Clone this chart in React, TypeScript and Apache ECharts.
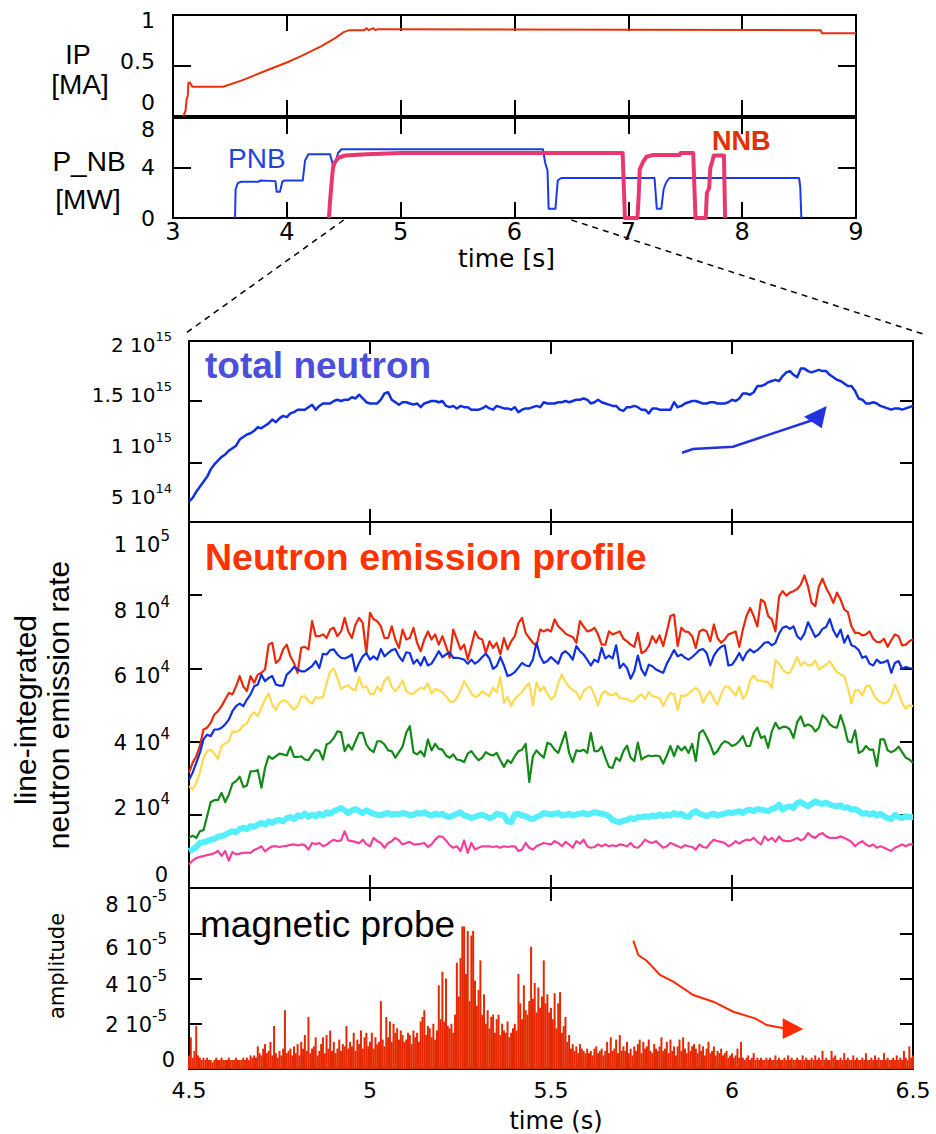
import React, { useEffect, useRef } from 'react';
import * as echarts from 'echarts';

// ================= DATA =================
// Upper panels, time in s (3–9 s)
const ipMA: [number, number][] = [
  [3.09, 0], [3.11, 0.05], [3.12, 0.17], [3.13, 0.2], [3.135, 0.33], [3.15, 0.33], [3.17, 0.29],
  [3.44, 0.29], [3.6, 0.35], [3.82, 0.45], [4.0, 0.53], [4.12, 0.59], [4.3, 0.69], [4.41, 0.76],
  [4.5, 0.83], [4.55, 0.85], [4.68, 0.85], [4.7, 0.87], [4.72, 0.85], [4.76, 0.87], [4.78, 0.85],
  [4.8, 0.86], [8.69, 0.85], [8.7, 0.82], [9.0, 0.82],
];
const pnbMW: [number, number][] = [
  [3.545, 0], [3.55, 2.3], [3.57, 2.8], [3.6, 2.9], [3.75, 2.9], [3.77, 3.0], [3.9, 2.95], [3.91, 2.1],
  [3.94, 2.1], [3.96, 2.9], [3.98, 3.0], [4.14, 3.0], [4.16, 4.6], [4.19, 5.1], [4.38, 5.1], [4.4, 4.4],
  [4.42, 4.2], [4.45, 5.2], [4.48, 5.5], [6.25, 5.5], [6.27, 4.4], [6.29, 3.8], [6.3, 0.75], [6.36, 0.75],
  [6.37, 1.9], [6.38, 3.0], [6.41, 3.2], [7.23, 3.2], [7.25, 0.75], [7.29, 0.75], [7.31, 2.3], [7.33, 2.8],
  [7.36, 3.2], [8.5, 3.2], [8.51, 2.5], [8.52, 0],
];
const nnbMW: [number, number][] = [
  [4.37, 0], [4.38, 1.4], [4.4, 3.5], [4.41, 4.3], [4.45, 4.8], [4.51, 5.0], [4.7, 5.1], [5.0, 5.2],
  [6.95, 5.2], [6.97, 0], [7.08, 0], [7.09, 1.6], [7.1, 3.9], [7.13, 4.5], [7.16, 4.9], [7.22, 5.05],
  [7.45, 5.05], [7.46, 5.2], [7.57, 5.2], [7.59, 0], [7.68, 0], [7.69, 2.0], [7.71, 2.4], [7.72, 4.0],
  [7.74, 4.6], [7.75, 5.0], [7.84, 5.0], [7.85, 0],
];

// Lower panels: sampled from 4.5 s
const ZOOM_T0 = 4.5;
const PROFILE_DT = 0.01; // s
const MAG_DT = 0.005; // s

// total neutron rate, units of 1e15
const totalNeutron_e15 = [
  0.69, 0.72, 0.77, 0.81, 0.85, 0.89, 0.95, 0.99, 1.02, 1.05,
  1.07, 1.10, 1.12, 1.14, 1.19, 1.21, 1.23, 1.24, 1.26, 1.29,
  1.28, 1.30, 1.32, 1.35, 1.33, 1.36, 1.38, 1.37, 1.40, 1.41,
  1.43, 1.43, 1.43, 1.45, 1.47, 1.43, 1.46, 1.48, 1.48, 1.48,
  1.50, 1.51, 1.50, 1.51, 1.51, 1.53, 1.52, 1.55, 1.52, 1.49,
  1.48, 1.48, 1.48, 1.51, 1.56, 1.57, 1.51, 1.49, 1.47, 1.49,
  1.49, 1.48, 1.47, 1.48, 1.45, 1.48, 1.49, 1.50, 1.50, 1.49,
  1.50, 1.46, 1.45, 1.46, 1.44, 1.46, 1.45, 1.45, 1.43, 1.43,
  1.43, 1.44, 1.46, 1.44, 1.43, 1.46, 1.45, 1.44, 1.44, 1.43,
  1.45, 1.41, 1.43, 1.44, 1.44, 1.45, 1.46, 1.45, 1.49, 1.48,
  1.48, 1.48, 1.49, 1.49, 1.50, 1.49, 1.50, 1.51, 1.51, 1.52,
  1.51, 1.48, 1.49, 1.51, 1.49, 1.48, 1.47, 1.46, 1.46, 1.43,
  1.42, 1.45, 1.45, 1.46, 1.45, 1.43, 1.43, 1.40, 1.44, 1.44,
  1.43, 1.43, 1.43, 1.43, 1.49, 1.45, 1.46, 1.48, 1.49, 1.50,
  1.50, 1.49, 1.48, 1.48, 1.49, 1.49, 1.48, 1.48, 1.48, 1.49,
  1.51, 1.50, 1.52, 1.56, 1.56, 1.55, 1.57, 1.62, 1.62, 1.63,
  1.65, 1.66, 1.67, 1.66, 1.70, 1.73, 1.74, 1.71, 1.69, 1.76,
  1.76, 1.74, 1.73, 1.74, 1.75, 1.74, 1.74, 1.71, 1.69, 1.67,
  1.66, 1.64, 1.62, 1.62, 1.58, 1.52, 1.51, 1.48, 1.48, 1.49,
  1.48, 1.46, 1.45, 1.44, 1.43, 1.44, 1.44, 1.43, 1.44, 1.45,
  1.46,
];

// line-integrated neutron emission rate, units of 1e4
const chRed_e4 = [
  3.15, 3.42, 3.60, 3.88, 4.33, 4.38, 4.51, 4.74, 4.83, 4.97,
  5.15, 5.33, 5.29, 5.51, 5.79, 5.51, 5.38, 5.79, 5.61, 5.83,
  5.88, 5.97, 6.65, 6.70, 6.15, 6.24, 6.52, 6.65, 6.33, 6.15,
  5.88, 6.56, 6.59, 6.52, 7.29, 6.88, 6.88, 6.93, 6.83, 7.06,
  7.11, 6.88, 7.01, 7.38, 7.01, 6.83, 7.20, 7.38, 7.24, 6.42,
  7.52, 7.34, 7.29, 7.15, 6.83, 6.83, 7.15, 6.79, 6.56, 7.06,
  6.79, 6.83, 7.11, 6.70, 6.47, 6.79, 7.01, 6.79, 6.93, 6.65,
  6.88, 6.61, 6.29, 7.06, 6.79, 6.52, 6.65, 6.24, 6.61, 7.01,
  6.83, 6.79, 6.42, 6.74, 6.56, 6.70, 6.38, 6.83, 6.52, 6.74,
  6.88, 7.24, 7.38, 6.97, 6.83, 6.70, 6.61, 7.06, 7.01, 7.06,
  7.01, 7.34, 7.15, 7.06, 6.95, 6.90, 6.86, 6.70, 7.29, 7.15,
  7.01, 7.04, 7.11, 6.93, 6.65, 6.65, 7.01, 6.93, 6.97, 7.01,
  6.81, 6.74, 6.65, 6.59, 6.97, 6.42, 6.47, 6.61, 6.88, 6.70,
  6.90, 6.61, 7.01, 7.43, 7.47, 6.61, 7.11, 7.01, 6.99, 6.88,
  6.56, 7.01, 7.06, 7.01, 6.74, 7.20, 6.83, 6.70, 6.79, 6.93,
  6.97, 7.01, 6.59, 7.06, 7.43, 7.65, 7.43, 7.15, 7.88, 7.81,
  7.43, 7.34, 7.01, 7.97, 8.11, 7.99, 8.07, 8.11, 8.17, 8.29,
  8.54, 8.24, 7.79, 7.70, 8.24, 8.45, 8.20, 8.02, 7.79, 8.07,
  7.88, 7.61, 7.54, 7.15, 6.97, 6.97, 6.90, 6.93, 7.01, 6.81,
  6.72, 6.72, 6.81, 6.59, 6.77, 6.93, 6.88, 6.63, 6.65, 6.74,
  6.79,
];
const chBlue_e4 = [
  2.96, 3.15, 3.42, 3.69, 4.06, 4.19, 4.15, 4.33, 4.33, 4.38,
  4.47, 4.60, 4.83, 4.97, 5.04, 4.97, 5.15, 5.29, 5.51, 5.56,
  5.83, 5.65, 5.74, 5.79, 5.56, 5.53, 5.53, 5.83, 5.92, 6.04,
  5.97, 5.92, 5.92, 5.99, 6.06, 6.20, 6.01, 6.40, 6.38, 6.50,
  6.52, 6.38, 6.29, 6.27, 6.31, 6.38, 5.92, 6.15, 6.33, 6.42,
  6.24, 6.33, 6.24, 6.53, 6.33, 6.42, 6.50, 6.53, 6.33, 6.20,
  6.44, 6.42, 6.13, 6.24, 6.08, 6.31, 6.08, 6.13, 6.29, 6.47,
  6.31, 6.38, 6.44, 6.29, 6.29, 6.27, 6.24, 6.13, 6.24, 6.13,
  6.20, 6.31, 6.40, 6.27, 5.99, 6.06, 6.31, 6.08, 5.79, 5.83,
  5.90, 6.02, 6.15, 6.08, 6.06, 6.24, 6.70, 6.33, 6.15, 6.20,
  6.31, 6.22, 6.13, 6.40, 6.47, 6.38, 6.24, 6.61, 6.47, 6.38,
  6.24, 6.08, 6.24, 6.17, 6.56, 6.27, 6.35, 6.27, 6.63, 6.01,
  6.13, 6.01, 5.72, 5.92, 6.35, 5.97, 5.81, 6.10, 6.06, 5.97,
  5.92, 5.88, 6.13, 6.31, 6.50, 6.33, 6.38, 6.29, 6.24, 6.31,
  6.40, 6.50, 6.53, 6.42, 6.08, 6.35, 6.50, 6.59, 6.63, 6.08,
  6.10, 6.24, 6.42, 6.22, 6.42, 6.52, 6.44, 6.50, 6.59, 6.70,
  6.72, 6.63, 6.70, 6.95, 7.11, 7.15, 7.08, 7.15, 6.88, 6.79,
  6.95, 7.26, 7.06, 6.86, 6.93, 7.08, 7.13, 7.35, 7.04, 6.86,
  7.06, 6.70, 6.90, 6.63, 6.59, 6.50, 6.29, 6.33, 6.13, 6.08,
  6.24, 6.15, 6.17, 6.22, 5.88, 6.15, 6.20, 5.99, 6.04, 6.01,
  5.99,
];
const chYellow_e4 = [
  2.78, 2.69, 2.87, 3.15, 3.56, 3.74, 3.78, 3.67, 3.53, 3.88,
  3.95, 4.01, 4.28, 4.26, 4.31, 4.44, 4.49, 4.70, 4.80, 4.70,
  4.92, 5.15, 5.31, 5.01, 4.86, 5.06, 5.13, 5.10, 4.98, 4.88,
  4.97, 5.22, 5.24, 5.10, 5.04, 5.22, 5.19, 5.22, 5.59, 5.92,
  5.99, 5.74, 5.44, 5.50, 5.53, 5.44, 5.40, 5.77, 5.47, 5.51,
  5.31, 5.29, 5.50, 5.38, 5.67, 5.77, 5.50, 5.38, 5.50, 5.67,
  5.38, 5.31, 5.31, 5.40, 5.47, 5.44, 5.59, 5.31, 5.44, 5.40,
  5.35, 5.24, 5.10, 5.08, 5.19, 5.40, 5.65, 5.50, 5.31, 5.22,
  5.26, 5.38, 5.31, 5.24, 5.47, 5.35, 5.77, 5.06, 5.22, 4.97,
  5.17, 5.26, 5.35, 5.50, 5.59, 4.99, 5.62, 5.38, 5.50, 5.31,
  5.15, 5.24, 5.59, 5.83, 5.63, 5.50, 5.40, 5.35, 5.15, 5.38,
  5.47, 5.50, 5.26, 4.99, 5.29, 5.38, 5.29, 5.26, 5.33, 5.19,
  5.17, 5.17, 5.10, 5.10, 5.22, 5.29, 5.17, 5.35, 5.24, 5.22,
  5.19, 4.97, 5.17, 5.33, 5.29, 4.86, 5.26, 5.24, 5.31, 5.40,
  5.47, 5.38, 5.06, 5.26, 5.38, 5.15, 5.01, 5.29, 5.50, 5.50,
  5.38, 5.26, 5.50, 5.17, 5.29, 5.67, 5.81, 5.67, 5.67, 5.63,
  5.63, 5.47, 6.22, 6.13, 5.97, 5.88, 5.88, 6.08, 6.31, 6.08,
  6.17, 6.08, 6.08, 6.22, 5.97, 6.04, 6.10, 6.20, 6.04, 5.90,
  5.83, 5.79, 5.47, 5.04, 5.40, 5.40, 5.26, 5.51, 5.53, 5.31,
  5.15, 5.08, 5.04, 5.08, 5.24, 5.56, 5.33, 5.06, 4.90, 4.99,
  4.97,
];
const chGreen_e4 = [
  1.37, 1.43, 1.37, 1.55, 1.58, 1.96, 2.35, 2.40, 2.40, 2.60,
  2.35, 2.55, 2.85, 2.92, 3.04, 2.76, 2.80, 3.19, 3.19, 3.22,
  2.74, 3.28, 3.60, 3.53, 3.60, 3.67, 3.65, 3.62, 3.86, 3.58,
  3.58, 3.60, 3.51, 3.49, 3.65, 3.78, 3.74, 3.51, 3.92, 3.98,
  4.10, 4.28, 4.26, 3.74, 3.92, 3.78, 4.01, 4.24, 4.24, 3.92,
  3.78, 3.71, 4.01, 4.01, 3.92, 3.76, 3.74, 3.56, 3.71, 3.86,
  4.24, 4.42, 3.71, 3.65, 3.74, 3.60, 4.06, 3.76, 3.94, 3.80,
  3.78, 3.62, 3.56, 3.65, 3.51, 3.49, 3.44, 3.67, 3.74, 3.60,
  3.49, 3.56, 3.71, 3.65, 3.62, 3.69, 3.49, 3.31, 3.49, 3.42,
  3.60, 3.74, 3.78, 3.94, 2.90, 3.60, 3.76, 3.65, 3.56, 3.97,
  3.92, 3.78, 3.69, 3.97, 4.26, 3.69, 3.44, 3.76, 3.74, 3.78,
  3.69, 4.24, 3.74, 3.74, 3.86, 3.56, 3.31, 3.28, 3.56, 3.47,
  3.74, 3.89, 3.56, 3.47, 3.97, 3.51, 3.58, 3.62, 3.60, 3.62,
  3.60, 3.40, 3.62, 3.88, 3.60, 3.88, 3.76, 3.86, 3.69, 3.94,
  3.47, 4.24, 4.31, 4.13, 3.92, 3.65, 3.74, 3.92, 4.01, 3.97,
  3.88, 3.92, 4.01, 4.15, 3.88, 3.88, 4.24, 4.38, 4.10, 4.15,
  3.83, 4.28, 4.51, 4.35, 4.40, 4.40, 4.33, 4.10, 4.53, 4.69,
  4.42, 4.47, 4.42, 4.28, 4.38, 4.72, 4.63, 4.47, 4.40, 4.38,
  4.72, 4.42, 4.01, 3.98, 4.31, 3.69, 3.74, 3.88, 3.78, 3.78,
  3.33, 4.06, 4.06, 3.76, 3.71, 3.76, 3.86, 3.71, 3.56, 3.51,
  3.42,
];
const chCyan_e4 = [
  1.01, 1.05, 1.12, 1.23, 1.25, 1.28, 1.32, 1.34, 1.40, 1.42,
  1.45, 1.51, 1.55, 1.52, 1.61, 1.64, 1.61, 1.69, 1.67, 1.73,
  1.78, 1.73, 1.82, 1.78, 1.84, 1.86, 1.82, 1.91, 1.94, 1.88,
  1.98, 1.96, 2.03, 1.94, 2.00, 1.96, 2.03, 1.98, 2.07, 2.03,
  2.10, 2.14, 2.19, 2.12, 2.05, 2.12, 2.16, 2.10, 2.05, 2.12,
  2.07, 2.03, 2.00, 1.98, 2.03, 2.05, 2.00, 2.03, 2.01, 2.05,
  2.03, 1.98, 2.00, 2.05, 2.03, 2.07, 2.01, 1.98, 2.03, 2.00,
  2.03, 1.96, 1.94, 1.98, 2.03, 2.07, 1.98, 1.96, 1.91, 1.94,
  1.98, 2.00, 1.96, 1.91, 1.94, 2.03, 2.00, 1.98, 1.82, 1.80,
  2.01, 2.03, 1.98, 1.96, 1.91, 1.88, 1.94, 1.98, 2.05, 2.03,
  2.01, 2.03, 2.05, 1.98, 2.00, 2.03, 1.98, 2.01, 2.03, 2.05,
  2.01, 2.03, 2.07, 2.05, 2.03, 2.01, 1.96, 1.86, 1.82, 1.80,
  1.84, 1.86, 1.91, 1.88, 1.94, 1.93, 1.96, 1.94, 1.98, 1.96,
  2.01, 1.96, 2.00, 1.98, 2.05, 2.00, 2.03, 1.96, 1.94, 2.05,
  2.10, 2.03, 2.00, 1.96, 2.01, 2.03, 1.98, 2.01, 2.03, 2.07,
  2.05, 2.07, 2.10, 2.05, 2.12, 2.14, 2.10, 2.16, 2.14, 2.12,
  2.10, 2.16, 2.19, 2.28, 2.14, 2.21, 2.23, 2.19, 2.32, 2.35,
  2.28, 2.23, 2.30, 2.37, 2.32, 2.30, 2.33, 2.28, 2.25, 2.23,
  2.26, 2.19, 2.21, 2.14, 2.16, 2.10, 2.03, 2.05, 2.01, 2.05,
  1.98, 2.03, 1.96, 1.91, 1.88, 2.00, 1.94, 1.91, 1.96, 1.94,
  1.94,
];
const chPink_e4 = [
  0.64, 0.75, 0.82, 0.85, 0.87, 0.90, 0.92, 0.95, 1.01, 0.88,
  1.01, 0.75, 0.98, 0.92, 0.94, 0.96, 0.97, 0.96, 1.04, 1.08,
  1.14, 1.00, 1.08, 1.14, 1.14, 1.12, 1.14, 1.15, 1.18, 1.19,
  1.16, 1.19, 1.17, 1.05, 1.23, 1.20, 1.23, 1.14, 1.18, 1.26,
  1.32, 1.28, 1.30, 1.55, 1.30, 1.28, 1.26, 1.22, 1.32, 1.20,
  1.14, 1.37, 1.28, 1.23, 1.10, 1.23, 1.28, 1.37, 1.30, 1.19,
  1.23, 1.26, 1.19, 1.19, 1.21, 1.23, 1.12, 1.19, 1.32, 1.41,
  1.40, 1.30, 1.17, 1.10, 1.14, 1.01, 1.30, 0.96, 1.23, 1.05,
  1.10, 1.14, 1.14, 1.14, 1.12, 1.14, 1.10, 1.14, 1.12, 1.14,
  1.14, 1.01, 1.05, 1.23, 1.10, 1.05, 1.14, 1.19, 1.23, 1.21,
  1.19, 1.28, 1.23, 1.14, 1.26, 1.19, 1.10, 1.28, 1.21, 1.32,
  1.14, 1.10, 1.12, 1.19, 1.14, 1.19, 1.14, 1.17, 1.14, 1.19,
  1.17, 1.14, 1.23, 1.12, 1.10, 1.19, 1.32, 1.26, 1.23, 1.28,
  1.19, 1.10, 1.14, 1.23, 1.19, 1.14, 1.10, 1.17, 1.14, 1.12,
  1.05, 1.19, 1.12, 1.10, 1.23, 1.32, 1.28, 1.26, 1.23, 1.14,
  1.19, 1.28, 1.21, 1.28, 1.32, 1.30, 1.37, 1.26, 1.19, 1.41,
  1.30, 1.37, 1.26, 1.41, 1.30, 1.28, 1.28, 1.32, 1.37, 1.30,
  1.35, 1.50, 1.41, 1.37, 1.46, 1.50, 1.41, 1.37, 1.37, 1.37,
  1.41, 1.37, 1.32, 1.26, 1.14, 1.23, 1.28, 1.19, 1.14, 1.19,
  1.10, 1.14, 1.10, 1.05, 1.01, 1.10, 1.14, 1.19, 1.14, 1.19,
  1.19,
];

// magnetic probe amplitude, units of 1e-5, every 5 ms
const magneticProbe_e5 = [
  0.6, 1.4, 0.5, 0.8, 1.9, 0.6, 0.5, 0.4, 0.5, 0.4, 0.5, 0.4, 0.4, 0.3, 0.4, 0.5, 0.4, 0.4, 0.5, 0.4,
  0.4, 0.4, 0.5, 0.4, 0.4, 0.4, 0.5, 0.4, 0.4, 0.4, 0.5, 0.4, 0.5, 0.4, 0.6, 0.5, 0.6, 0.5, 1.0, 0.7,
  0.6, 0.9, 1.1, 0.7, 0.8, 1.2, 0.6, 1.9, 0.7, 0.5, 0.8, 0.6, 0.9, 2.6, 0.7, 0.8, 0.9, 0.6, 1.0, 0.7,
  1.1, 0.6, 1.2, 0.9, 1.5, 0.8, 2.3, 0.7, 0.9, 1.0, 1.4, 0.6, 0.8, 1.1, 1.4, 0.7, 1.5, 0.9, 1.7, 0.8,
  1.2, 0.7, 0.9, 1.3, 0.8, 1.1, 1.0, 1.9, 0.9, 1.2, 1.0, 1.6, 0.8, 1.3, 1.1, 1.7, 0.9, 1.4, 1.6, 1.0,
  1.2, 1.6, 0.9, 1.4, 1.1, 1.2, 3.0, 1.3, 1.0, 2.3, 1.4, 2.1, 1.2, 2.0, 1.6, 1.8, 1.3, 1.7, 1.5, 1.2,
  1.3, 1.6, 1.5, 1.1, 1.7, 1.4, 1.6, 1.2, 2.1, 2.3, 2.6, 1.5, 1.9, 1.8, 1.4, 2.0, 1.3, 1.7, 3.7, 2.2,
  4.3, 2.1, 4.0, 1.9, 1.8, 2.0, 1.6, 2.4, 4.7, 3.2, 4.9, 6.3, 6.3, 4.2, 6.1, 3.0, 5.9, 6.1, 3.9, 2.8,
  3.5, 4.8, 2.4, 3.3, 2.0, 2.6, 1.8, 2.3, 2.4, 1.6, 2.2, 2.4, 1.5, 2.0, 1.7, 1.6, 2.1, 1.4, 1.6, 1.8,
  2.0, 1.7, 4.2, 2.9, 2.2, 3.7, 2.6, 2.4, 3.0, 5.4, 3.1, 3.8, 2.5, 3.6, 2.7, 3.2, 4.8, 2.9, 3.3, 2.5,
  2.7, 2.2, 3.35, 1.8, 2.9, 3.4, 1.6, 1.9, 2.3, 1.2, 1.5, 0.9, 1.1, 0.8, 1.0, 0.7, 1.1, 0.9, 0.8, 0.7,
  0.9, 0.7, 0.8, 0.6, 0.9, 1.0, 0.7, 0.8, 0.9, 0.6, 0.8, 1.2, 0.7, 1.4, 0.8, 0.9, 1.3, 0.7, 1.5, 0.8,
  1.0, 0.8, 1.2, 0.7, 0.9, 0.6, 1.0, 0.8, 1.1, 1.3, 0.7, 1.2, 0.9, 1.0, 1.3, 0.8, 0.7, 1.1, 0.9, 0.8,
  1.0, 1.4, 0.8, 0.9, 1.2, 0.7, 1.3, 0.8, 1.0, 0.6, 1.0, 1.3, 0.8, 1.4, 0.9, 0.7, 1.2, 0.8, 1.0, 1.1,
  0.9, 0.7, 1.1, 0.8, 1.0, 0.6, 0.9, 1.2, 0.7, 0.8, 1.0, 0.6, 0.8, 0.7, 0.9, 0.6, 0.7, 0.8, 0.5, 0.6,
  0.7, 0.5, 0.6, 0.9, 0.5, 1.2, 0.5, 0.4, 0.5, 0.6, 0.4, 0.5, 0.7, 0.4, 0.5, 0.4, 0.5, 0.4, 0.4, 0.5,
  0.4, 0.5, 0.4, 0.4, 0.6, 0.4, 0.5, 0.4, 0.4, 0.5, 0.4, 0.6, 0.4, 0.5, 0.4, 0.4, 0.5, 0.4, 0.4, 0.6,
  0.4, 0.5, 0.4, 0.4, 0.5, 0.4, 0.6, 0.4, 0.5, 0.4, 0.8, 0.4, 0.5, 0.4, 0.4, 0.8, 0.5, 0.6, 0.4, 0.4,
  0.5, 0.4, 0.7, 0.4, 0.5, 0.4, 0.4, 0.6, 0.4, 0.5, 0.4, 0.4, 0.5, 0.4, 0.7, 0.4, 0.4, 0.5, 0.4, 0.6,
  0.4, 0.5, 0.4, 0.4, 0.7, 0.4, 0.5, 0.4, 0.4, 0.5, 0.4, 0.6, 0.4, 0.5, 0.4, 0.8, 0.5, 0.4, 1.0, 0.5,
  0.6,
];

// Tick labels (main part, exponent)
const ipTickLabels = ['1', '0.5', '0'];
const pnbTickLabels = ['8', '4', '0'];
const totalTickLabels: [string, string][] = [['2 10', '15'], ['1.5 10', '15'], ['1 10', '15'], ['5 10', '14']];
const profileTickLabels: [string, string][] = [['1 10', '5'], ['8 10', '4'], ['6 10', '4'], ['4 10', '4'], ['2 10', '4'], ['0', '']];
const magTickLabels: [string, string][] = [['8 10', '-5'], ['6 10', '-5'], ['4 10', '-5'], ['2 10', '-5'], ['0', '']];

// ================= LAYOUT / STYLE =================
const FONT = '"Liberation Sans", Arial, Helvetica, sans-serif';
const WIDE = '"DejaVu Sans", Verdana, sans-serif';
const BLACK = '#000';

const ipLabelY = [20, 61.5, 102];
const pnbLabelY = [129.5, 167.5, 218];
const totalLabelY = [345, 395, 446, 497];
const profileLabelY = [544.5, 610.5, 676, 742.5, 807.5, 875];
const magLabelY = [904.5, 947.5, 984.5, 1024.5, 1060];

function series2(vals: number[], t0: number, dt: number) {
  return vals.map((v, i) => [Math.round((t0 + i * dt) * 10000) / 10000, v]);
}

function frameX(gridIndex: number, min: number, max: number, interval: number, tickLen: number, bottomExtra: any = {}) {
  const base = {
    type: 'value', gridIndex, min, max, interval,
    axisLine: { show: true, onZero: false, lineStyle: { color: BLACK, width: 2 } },
    axisTick: { show: true, inside: true, length: tickLen, lineStyle: { color: BLACK, width: 2 } },
    axisLabel: { show: false },
    splitLine: { show: false },
  };
  return [
    { ...base, position: 'bottom', ...bottomExtra },
    { ...base, position: 'top' },
  ];
}

function frameY(gridIndex: number, min: number, max: number, interval: number | undefined, tickLen: number, custom?: number[]) {
  const tick: any = { show: true, inside: true, length: tickLen, lineStyle: { color: BLACK, width: 2 } };
  if (custom) tick.customValues = custom;
  const base: any = {
    type: 'value', gridIndex, min, max,
    axisLine: { show: true, onZero: false, lineStyle: { color: BLACK, width: 2 } },
    axisTick: tick,
    axisLabel: { show: false },
    splitLine: { show: false },
  };
  if (interval !== undefined) base.interval = interval;
  return [
    { ...base, position: 'left' },
    { ...base, position: 'right' },
  ];
}

function tickText(x: number, y: number, main: string, sup: string, fsMain: number, fsSup: number, raise: number) {
  return {
    type: 'text', x, y, silent: true,
    style: {
      text: sup ? `{a|${main}}{b|${sup}}` : `{a|${main}}`,
      rich: {
        a: { fontSize: fsMain, fontFamily: WIDE, fill: BLACK },
        b: { fontSize: fsSup, fontFamily: WIDE, fill: BLACK, padding: [0, 0, raise * 2, 0] },
      },
      align: 'right',
      verticalAlign: 'middle',
    },
  };
}

function plainText(x: number, y: number, text: string, fontSize: number, fill: string, opts: any = {}) {
  const { rotation, ...styleExtra } = opts;
  const el: any = {
    type: 'text', x, y, silent: true,
    style: { text, fontSize, fontFamily: FONT, fill, align: 'center', verticalAlign: 'middle', ...styleExtra },
  };
  if (rotation !== undefined) el.rotation = rotation;
  return el;
}

function line(data: any[], xi: number, yi: number, color: string, width: number) {
  return {
    type: 'line', xAxisIndex: xi, yAxisIndex: yi, data,
    showSymbol: false, symbol: 'none', silent: true,
    lineStyle: { color, width, join: 'round' },
  };
}

export default function App() {
  const ref = useRef<HTMLDivElement>(null);

  useEffect(() => {
    if (!ref.current) return;
    const chart = echarts.init(ref.current, undefined, { renderer: 'svg' });

    const xAxes = [
      ...frameX(0, 3, 9, 1, 16),
      ...frameX(1, 3, 9, 1, 16, {
        axisLabel: { show: true, fontSize: 24, fontFamily: WIDE, color: BLACK, margin: 3, lineHeight: 22 },
        name: 'time [s]', nameLocation: 'middle', nameGap: 30,
        nameTextStyle: { fontSize: 25, fontFamily: WIDE, color: BLACK, lineHeight: 20, padding: [0, 16, 0, 0] },
      }),
      ...frameX(2, 4.5, 6.5, 0.5, 13),
      ...frameX(3, 4.5, 6.5, 0.5, 13),
      ...frameX(4, 4.5, 6.5, 0.5, 13, {
        axisLabel: { show: true, fontSize: 22, fontFamily: WIDE, color: BLACK, margin: 11, lineHeight: 20 },
        name: 'time (s)', nameLocation: 'middle', nameGap: 42,
        nameTextStyle: { fontSize: 24, fontFamily: WIDE, color: BLACK, lineHeight: 20, padding: [0, 0, 0, 10] },
      }),
    ];
    const yAxes = [
      ...frameY(0, 0, 1, 0.5, 18),
      ...frameY(1, 0, 8, 4, 18),
      ...frameY(2, 0.527, 1.982, undefined, 13, [1, 1.5]),
      ...frameY(3, 0, 10, 2, 13),
      ...frameY(4, 0, 8, 2, 13),
    ];

    const option: any = {
      animation: false,
      backgroundColor: '#fff',
      grid: [
        { left: 173, top: 15, width: 683, height: 101 },
        { left: 173, top: 118, width: 683, height: 100 },
        { left: 189, top: 341, width: 724, height: 181 },
        { left: 189, top: 522, width: 724, height: 366 },
        { left: 189, top: 888, width: 724, height: 182 },
      ],
      xAxis: xAxes,
      yAxis: yAxes,
      series: [
        line(ipMA, 0, 0, '#e8300c', 2),
        line(pnbMW, 2, 2, '#1a3be6', 2),
        line(nnbMW, 2, 2, '#e8386e', 4),
        line(series2(totalNeutron_e15, ZOOM_T0, PROFILE_DT), 4, 4, '#1030e0', 2.5),
        line(series2(chCyan_e4, ZOOM_T0, PROFILE_DT), 6, 6, '#55eefc', 6),
        line(series2(chPink_e4, ZOOM_T0, PROFILE_DT), 6, 6, '#f2409c', 2.2),
        line(series2(chGreen_e4, ZOOM_T0, PROFILE_DT), 6, 6, '#138a18', 2.2),
        line(series2(chYellow_e4, ZOOM_T0, PROFILE_DT), 6, 6, '#ffd94f', 2.2),
        line(series2(chRed_e4, ZOOM_T0, PROFILE_DT), 6, 6, '#e8290b', 2.2),
        line(series2(chBlue_e4, ZOOM_T0, PROFILE_DT), 6, 6, '#1030e0', 2.2),
        {
          type: 'bar', xAxisIndex: 8, yAxisIndex: 8, silent: true,
          data: series2(magneticProbe_e5, ZOOM_T0, MAG_DT),
          barWidth: 2, itemStyle: { color: '#e62800' },
        },
      ],
    };
    chart.setOption(option);

    // zoom-connector dashed lines derived from the axes
    const xa = chart.convertToPixel({ xAxisIndex: 2 }, 4.5) as number;
    const xb = chart.convertToPixel({ xAxisIndex: 2 }, 6.5) as number;
    const yb = chart.convertToPixel({ yAxisIndex: 2 }, 0) as number;
    const xl = chart.convertToPixel({ xAxisIndex: 4 }, 4.5) as number;
    const xr = chart.convertToPixel({ xAxisIndex: 4 }, 6.5) as number;
    const yt = chart.convertToPixel({ yAxisIndex: 4 }, 1.982) as number;

    const g: any[] = [];
    // upper panel labels
    g.push(plainText(78, 55, 'IP', 27, BLACK));
    g.push(plainText(80, 84, '[MA]', 28, BLACK));
    g.push(plainText(89, 161, 'P_NB', 28, BLACK));
    g.push(plainText(88, 199, '[MW]', 28, BLACK));
    ipTickLabels.forEach((t, i) => g.push(tickText(155, ipLabelY[i], t, '', 22, 12, 0)));
    pnbTickLabels.forEach((t, i) => g.push(tickText(155, pnbLabelY[i], t, '', 22, 12, 0)));
    g.push(plainText(228, 158, 'PNB', 28, '#2244dd', { align: 'left' }));
    g.push(plainText(712, 141, 'NNB', 27, '#e62e00', { align: 'left', fontWeight: 'bold' }));

    // lower panel tick labels
    totalTickLabels.forEach(([m, s], i) => g.push(tickText(172, totalLabelY[i], m, s, 20, 13, 9)));
    profileTickLabels.forEach(([m, s], i) => g.push(tickText(s ? 170 : 168, profileLabelY[i], m, s, 21, 15, 9)));
    magTickLabels.forEach(([m, s], i) => g.push(tickText(s ? 167 : 175, magLabelY[i], m, s, 21, 15, 8.5)));

    // titles
    g.push(plainText(205, 365, 'total neutron', 37, '#4b50dc', { align: 'left', fontWeight: 'bold' }));
    g.push(plainText(205, 557, 'Neutron emission profile', 37.5, '#ff3300', { align: 'left', fontWeight: 'bold' }));
    g.push(plainText(200, 924, 'magnetic probe', 37, BLACK, { align: 'left' }));

    // rotated axis names
    g.push(plainText(25, 710, 'line-integrated', 30, BLACK, { rotation: Math.PI / 2 }));
    g.push(plainText(58, 705, 'neutron emission rate', 30, BLACK, { rotation: Math.PI / 2 }));
    g.push(plainText(57, 966, 'amplitude', 21, BLACK, { rotation: Math.PI / 2, fontFamily: WIDE }));

    // dashed connectors
    g.push({ type: 'line', silent: true, shape: { x1: xa, y1: yb + 2, x2: xl - 3, y2: yt - 8 }, style: { stroke: BLACK, lineWidth: 1.5, lineDash: [6, 5] } });
    g.push({ type: 'line', silent: true, shape: { x1: xb, y1: yb + 2, x2: xr + 10, y2: yt - 7 }, style: { stroke: BLACK, lineWidth: 1.5, lineDash: [6, 5] } });

    // annotation arrows
    g.push({ type: 'polyline', silent: true, shape: { points: [[682, 452.7], [693, 449], [733, 446.7], [813, 420]] }, style: { stroke: '#2233dd', lineWidth: 2.5, fill: 'none' } });
    g.push({ type: 'polygon', silent: true, shape: { points: [[826.7, 406], [804, 416.7], [821.7, 428.3]] }, style: { fill: '#2233dd' } });
    g.push({ type: 'polyline', silent: true, shape: { points: [[633.3, 940.7], [638.3, 955], [646.7, 960.7], [660, 975], [673.3, 981.7], [693.3, 995], [713.3, 1001.7], [733.3, 1011.7], [755, 1018.3], [766.7, 1025], [785, 1028.5]] }, style: { stroke: '#ff2a00', lineWidth: 2, fill: 'none' } });
    g.push({ type: 'polygon', silent: true, shape: { points: [[803.3, 1029], [782.7, 1018.3], [782.7, 1039]] }, style: { fill: '#ff2a00' } });

    chart.setOption({ graphic: g });

    return () => chart.dispose();
  }, []);

  return (
    <div
      ref={ref}
      style={{ position: 'fixed', left: 0, top: 0, width: 936, height: 1134, background: '#fff' }}
    />
  );
}
